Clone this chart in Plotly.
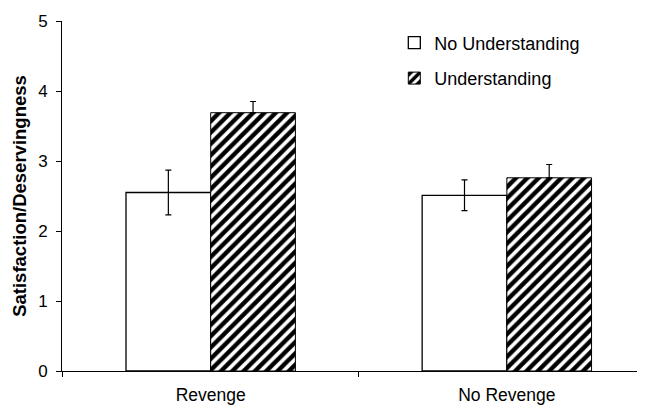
import plotly.graph_objects as go

categories = ["Revenge", "No Revenge"]
series_names = ["No Understanding", "Understanding"]
no_understanding = [2.55, 2.51]
no_understanding_se = [0.32, 0.22]
understanding = [3.69, 2.76]
understanding_se = [0.16, 0.19]
y_ticks = [0, 1, 2, 3, 4, 5]

FONT = "Liberation Sans, Arial, sans-serif"

fig = go.Figure()

fig.add_trace(go.Bar(
    name=series_names[0], x=categories, y=no_understanding,
    marker=dict(color="white", line=dict(color="black", width=1.3)),
    error_y=dict(type="data", array=no_understanding_se, color="black", thickness=1.2, width=3),
    legendgroup="a",
))
fig.add_trace(go.Bar(
    name=series_names[1], x=categories, y=understanding,
    marker=dict(color="white", line=dict(color="black", width=1),
                pattern=dict(shape="/", fgcolor="black", bgcolor="white", fgopacity=1,
                             size=8, solidity=0.55)),
    error_y=dict(type="data", symmetric=False, array=understanding_se,
                 arrayminus=[0] * len(understanding_se), color="black", thickness=1.2, width=3),
    legendgroup="b",
))

fig.update_layout(
    width=637, height=398,
    margin=dict(l=54, r=0, t=13, b=35),
    paper_bgcolor="white", plot_bgcolor="white",
    font=dict(family=FONT, size=17, color="black"),
    barmode="group", bargap=0.428, bargroupgap=0,
    showlegend=True,
    legend=dict(x=0.57, y=0.99, xanchor="left", yanchor="top",
                bgcolor="rgba(0,0,0,0)", font=dict(size=18),
                traceorder="grouped", tracegroupgap=9),
    xaxis=dict(type="category", range=[-0.5021, 1.4665], automargin=False,
               tickson="boundaries", ticks="outside", ticklen=5, tickcolor="black",
               showline=True, linecolor="black", linewidth=1.3, showgrid=False,
               tickfont=dict(size=17.5), ticklabelstandoff=8),
    yaxis=dict(range=[0, 5], tickvals=y_ticks, ticks="outside", ticklen=5, tickcolor="black",
               showline=True, linecolor="black", linewidth=1, showgrid=False, zeroline=False,
               automargin=False, tickfont=dict(size=17), ticklabelstandoff=5,
               title=dict(text="<b>Satisfaction/Deservingness</b>", font=dict(size=18.5), standoff=6)),
)

fig.write_html("out.html")
